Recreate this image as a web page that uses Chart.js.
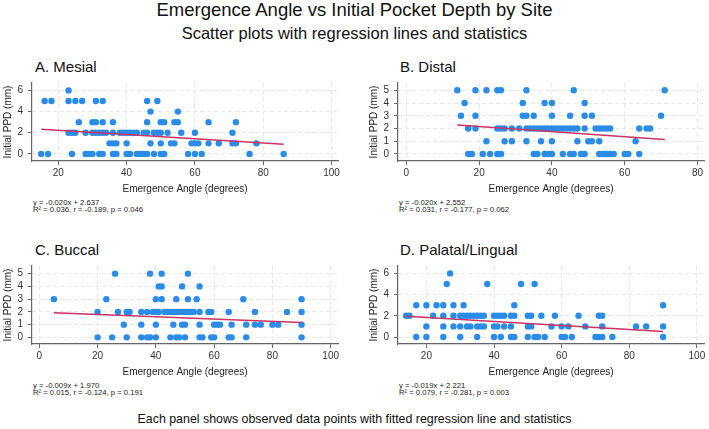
<!DOCTYPE html>
<html>
<head>
<meta charset="utf-8">
<script src="https://cdn.jsdelivr.net/npm/chart.js@4.4.1/dist/chart.umd.min.js"></script>
<style>
  body { margin: 0; background: #fff; font-family: 'Liberation Sans', Arial, sans-serif; color: #111; }
  #page { position: relative; width: 709px; height: 429px; overflow: hidden; }
  .txt { position: absolute; white-space: nowrap; line-height: 1; }
  .center { left: 0; width: 709px; text-align: center; }
  .title { top: 1px; font-size: 18.5px; }
  .subtitle { top: 25px; font-size: 16.5px; }
  .ptitle { font-size: 15px; }
  .stats { font-size: 7.7px; color: #222; }
  .footer { top: 413px; font-size: 12.4px; }
  .panel { position: absolute; width: 342px; height: 126px; }
</style>
</head>
<body>
<div id="page">
  <div class="txt center title">Emergence Angle vs Initial Pocket Depth by Site</div>
  <div class="txt center subtitle">Scatter plots with regression lines and statistics</div>

  <div class="txt ptitle" style="left:35px; top:59px;">A. Mesial</div>
  <div class="txt ptitle" style="left:400px; top:59px;">B. Distal</div>
  <div class="txt ptitle" style="left:35px; top:242px;">C. Buccal</div>
  <div class="txt ptitle" style="left:400px; top:242px;">D. Palatal/Lingual</div>

  <div class="panel" style="left:0; top:72px;"><canvas id="chartA" width="342" height="126"></canvas></div>
  <div class="panel" style="left:366px; top:72px;"><canvas id="chartB" width="342" height="126"></canvas></div>
  <div class="panel" style="left:0; top:255px;"><canvas id="chartC" width="342" height="126"></canvas></div>
  <div class="panel" style="left:366px; top:255px;"><canvas id="chartD" width="342" height="126"></canvas></div>

  <div class="txt stats" id="statsA" style="left:33px; top:198.5px;"></div>
  <div class="txt stats" id="statsB" style="left:399px; top:198.5px;"></div>
  <div class="txt stats" id="statsC" style="left:33px; top:381.5px;"></div>
  <div class="txt stats" id="statsD" style="left:399px; top:381.5px;"></div>

  <div class="txt center footer">Each panel shows observed data points with fitted regression line and statistics</div>
</div>
<script>
  // --- Mesial ---
  const mesialAngle = [
    23,
    16, 18, 23, 25, 27, 31, 33, 46, 49,
    47, 55,
    26, 30, 31, 33, 36, 46, 50, 51, 54, 55, 64, 72,
    23, 24, 25, 28, 30, 31, 32, 33, 34, 36,
    38, 39, 40, 41, 42, 43, 45, 46, 48, 49,
    50, 52, 56, 60, 71,
    35, 36, 37, 40, 47, 50, 53, 54, 59, 60,
    61, 64, 67, 71, 72, 78,
    15, 17, 24, 28, 29, 30, 32, 33, 36, 37,
    40, 41, 43, 44, 45, 46, 48, 50, 51, 58,
    60, 62, 76, 86
  ];
  const mesialPPD = [
    6,
    5, 5, 5, 5, 5, 5, 5, 5, 5,
    4, 4,
    3, 3, 3, 3, 3, 3, 3, 3, 3, 3, 3, 3,
    2, 2, 2, 2, 2, 2, 2, 2, 2, 2,
    2, 2, 2, 2, 2, 2, 2, 2, 2, 2,
    2, 2, 2, 2, 2,
    1, 1, 1, 1, 1, 1, 1, 1, 1, 1,
    1, 1, 1, 1, 1, 1,
    0, 0, 0, 0, 0, 0, 0, 0, 0, 0,
    0, 0, 0, 0, 0, 0, 0, 0, 0, 0,
    0, 0, 0, 0
  ];
  const mesialFitX = [15, 86];
  const mesialFitY = [2.34, 0.92];
  const mesialXTicks = [20, 40, 60, 80, 100];
  const mesialYTicks = [0, 2, 4, 6];
  const mesialStats = ['y = -0.020x + 2.637', 'R\u00b2 = 0.036, r = -0.189, p = 0.046'];

  // --- Distal ---
  const distalAngle = [
    14, 19, 22, 25, 26, 33, 46, 71,
    16, 32, 38, 40, 49,
    15, 19, 32, 33, 35, 40, 45, 49, 51, 70,
    17, 19, 25, 26, 27, 29, 31, 33, 34, 35,
    36, 37, 38, 39, 40, 41, 42, 43, 44, 45,
    46, 47, 49, 52, 53, 54, 55, 56, 64, 66,
    67,
    22, 27, 29, 33, 37, 40, 47, 50, 51, 53,
    63,
    17, 18, 21, 23, 25, 26, 35, 36, 38, 39,
    40, 43, 45, 46, 48, 49, 53, 54, 55, 56,
    57, 60, 61, 64
  ];
  const distalPPD = [
    5, 5, 5, 5, 5, 5, 5, 5,
    4, 4, 4, 4, 4,
    3, 3, 3, 3, 3, 3, 3, 3, 3, 3,
    2, 2, 2, 2, 2, 2, 2, 2, 2, 2,
    2, 2, 2, 2, 2, 2, 2, 2, 2, 2,
    2, 2, 2, 2, 2, 2, 2, 2, 2, 2,
    2,
    1, 1, 1, 1, 1, 1, 1, 1, 1, 1,
    1,
    0, 0, 0, 0, 0, 0, 0, 0, 0, 0,
    0, 0, 0, 0, 0, 0, 0, 0, 0, 0,
    0, 0, 0, 0
  ];
  const distalFitX = [14, 71];
  const distalFitY = [2.27, 1.13];
  const distalXTicks = [0, 20, 40, 60, 80];
  const distalYTicks = [0, 1, 2, 3, 4, 5];
  const distalStats = ['y = -0.020x + 2.552', 'R\u00b2 = 0.031, r = -0.177, p = 0.062'];

  // --- Buccal ---
  const buccalAngle = [
    26, 38, 42, 51,
    41, 42, 49, 55,
    5, 23, 40, 42, 47, 51, 54, 70, 90,
    20, 27, 30, 31, 35, 37, 39, 40, 41, 43,
    44, 45, 46, 47, 48, 49, 50, 51, 52, 53,
    55, 58, 59, 65, 74, 85, 90,
    29, 35, 40, 46, 49, 50, 55, 60, 61, 62,
    66, 71, 74, 76, 80, 82, 90,
    20, 25, 30, 35, 37, 38, 40, 45, 47, 48,
    50, 55, 56, 59, 60, 65, 66, 71, 90
  ];
  const buccalPPD = [
    5, 5, 5, 5,
    4, 4, 4, 4,
    3, 3, 3, 3, 3, 3, 3, 3, 3,
    2, 2, 2, 2, 2, 2, 2, 2, 2, 2,
    2, 2, 2, 2, 2, 2, 2, 2, 2, 2,
    2, 2, 2, 2, 2, 2, 2,
    1, 1, 1, 1, 1, 1, 1, 1, 1, 1,
    1, 1, 1, 1, 1, 1, 1,
    0, 0, 0, 0, 0, 0, 0, 0, 0, 0,
    0, 0, 0, 0, 0, 0, 0, 0, 0
  ];
  const buccalFitX = [5, 90];
  const buccalFitY = [1.93, 1.16];
  const buccalXTicks = [0, 20, 40, 60, 80, 100];
  const buccalYTicks = [0, 1, 2, 3, 4, 5];
  const buccalStats = ['y = -0.009x + 1.970', 'R\u00b2 = 0.015, r = -0.124, p = 0.191'];

  // --- Palatal/Lingual ---
  const palatalAngle = [
    27,
    26, 38, 48, 52,
    17, 20, 23, 25, 28, 31, 46, 90,
    14, 15, 22, 25, 28, 30, 31, 32, 33, 34,
    35, 36, 37, 40, 41, 42, 43, 45, 46, 50,
    51, 54, 58, 65, 71, 72,
    20, 25, 28, 30, 32, 33, 35, 36, 37, 40,
    41, 43, 45, 50, 51, 57, 60, 62, 67, 72,
    82, 85, 90,
    17, 20, 25, 30, 35, 40, 42, 45, 46, 50,
    52, 53, 55, 60, 61, 63, 70, 71, 72, 75,
    90
  ];
  const palatalPPD = [
    6,
    5, 5, 5, 5,
    3, 3, 3, 3, 3, 3, 3, 3,
    2, 2, 2, 2, 2, 2, 2, 2, 2, 2,
    2, 2, 2, 2, 2, 2, 2, 2, 2, 2,
    2, 2, 2, 2, 2, 2,
    1, 1, 1, 1, 1, 1, 1, 1, 1, 1,
    1, 1, 1, 1, 1, 1, 1, 1, 1, 1,
    1, 1, 1,
    0, 0, 0, 0, 0, 0, 0, 0, 0, 0,
    0, 0, 0, 0, 0, 0, 0, 0, 0, 0,
    0
  ];
  const palatalFitX = [14, 90];
  const palatalFitY = [1.96, 0.51];
  const palatalXTicks = [20, 40, 60, 80, 100];
  const palatalYTicks = [0, 2, 4, 6];
  const palatalStats = ['y = -0.019x + 2.221', 'R\u00b2 = 0.079, r = -0.281, p = 0.003'];

  Chart.defaults.font.family = "'Liberation Sans', Arial, sans-serif";
  Chart.defaults.color = '#222';

  const dotColor = '#2b8ce8';
  const lineColor = '#c93462';
  const gridColor = '#e6e6e6';
  const axisColor = '#666';

  function toPoints(xs, ys) {
    return xs.map((x, i) => ({ x: x, y: ys[i] }));
  }

  function axis(min, max, tickVals, title, isX) {
    return {
      type: 'linear',
      min: min,
      max: max,
      afterBuildTicks: (s) => { s.ticks = tickVals.map(v => ({ value: v })); },
      afterFit: (s) => { if (isX) s.height = 37; else s.width = 32; },
      grid: { color: gridColor, tickColor: axisColor, tickLength: 4, tickBorderDash: [] },
      border: { display: true, color: axisColor, width: 1.2, dash: [4, 3] },
      ticks: { font: { size: 10 }, color: '#333', padding: isX ? 2 : 5, maxRotation: 0 },
      title: {
        display: true,
        text: title,
        font: { size: 10 },
        color: '#222',
        padding: isX ? { top: 0, bottom: 3 } : { top: 2, bottom: 0 }
      }
    };
  }

  function drawPanel(id, statsId, angle, ppd, fitX, fitY, xr, yr, xTicks, yTicks, stats) {
    document.getElementById(statsId).innerHTML = stats.join('<br>');
    new Chart(document.getElementById(id), {
      type: 'scatter',
      data: {
        datasets: [
          {
            data: toPoints(fitX, fitY),
            showLine: true,
            borderColor: lineColor,
            borderWidth: 1.5,
            pointRadius: 0,
            order: 0
          },
          {
            data: toPoints(angle, ppd),
            backgroundColor: dotColor,
            borderWidth: 0,
            pointRadius: 3.2,
            order: 1
          }
        ]
      },
      options: {
        responsive: false,
        animation: false,
        layout: { padding: { top: 4, right: 3, left: 0, bottom: 0 } },
        plugins: { legend: { display: false }, tooltip: { enabled: false } },
        scales: {
          x: axis(xr[0], xr[1], xTicks, 'Emergence Angle (degrees)', true),
          y: axis(yr[0], yr[1], yTicks, 'Initial PPD (mm)', false)
        }
      }
    });
  }

  drawPanel('chartA', 'statsA', mesialAngle, mesialPPD, mesialFitX, mesialFitY,
    [12.3, 101.9], [-0.67, 6.7], mesialXTicks, mesialYTicks, mesialStats);
  drawPanel('chartB', 'statsB', distalAngle, distalPPD, distalFitX, distalFitY,
    [-2.3, 81.8], [-0.55, 5.57], distalXTicks, distalYTicks, distalStats);
  drawPanel('chartC', 'statsC', buccalAngle, buccalPPD, buccalFitX, buccalFitY,
    [-2.5, 102.5], [-0.52, 5.6], buccalXTicks, buccalYTicks, buccalStats);
  drawPanel('chartD', 'statsD', palatalAngle, palatalPPD, palatalFitX, palatalFitY,
    [11.6, 102.1], [-0.66, 6.7], palatalXTicks, palatalYTicks, palatalStats);
</script>
</body>
</html>
